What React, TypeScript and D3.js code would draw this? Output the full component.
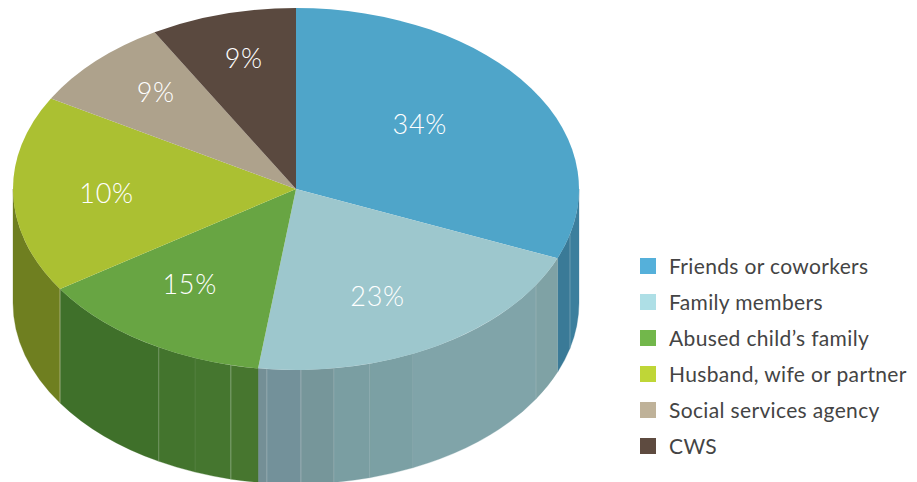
import React from "react";
import * as d3 from "d3";

const categories = ["Friends or coworkers", "Family members", "Abused child\u2019s family", "Husband, wife or partner", "Social services agency", "CWS"];
const percentLabels = ["34%", "23%", "15%", "10%", "9%", "9%"];
// drawn slice sizes as they appear in the artwork (they differ from the printed labels)
const drawnDegrees = [112.5, 75.2, 48.8, 63.5, 30, 30];
const topColors = ["#4fa5c9", "#9dc7cd", "#68a543", "#abc032", "#aea28c", "#5a493f"];
const legendColors = ["#55b0da", "#aedfe6", "#72b74b", "#bfd637", "#bfb299", "#5e4b40"];
// wall strips: end angle (degrees clockwise from top) and colour
const wallEnds = [104.5, 112.4, 122, 155.6, 164.9, 172.3, 179, 185.9, 187.7, 193.3, 200.9, 209, 236.5, 270];
const wallColors = ["#3c7f9d", "#3a7a97", "#7fa2a5", "#80a4a9", "#7ba0a4", "#7a9ea2", "#76969a", "#73919a", "#748f96", "#47762f", "#45762f", "#43742d", "#3f702a", "#6f7f20"];
const seamAlpha = [0.25, 0, 0.15, 0.05, 0.03, 0.15, 0.25, 0.2, 0, 0.3, 0.08, 0.2, 0.4, 0];
const labelAngles = [50.6, 154, 215.5, 268, 317, 345.7];
const labelRadial = [0.566, 0.657, 0.647, 0.67, 0.727, 0.747];

const W = 917, H = 482;
const cx = 296, cy = 189, rx = 283, ry = 181, depth = 114;
const rad = d3.scaleLinear().domain([0, 360]).range([0, 2 * Math.PI]);
const px = (deg: number, r = 1) => cx + rx * r * Math.sin(rad(deg));
const py = (deg: number, r = 1) => cy - ry * r * Math.cos(rad(deg));

const pie = d3.pie<number>().sort(null).value((d) => d);
const arcs = pie(drawnDegrees);
const arc = d3.arc<d3.PieArcDatum<number>>().innerRadius(0).outerRadius(rx);

const legendY = d3.scalePoint<string>().domain(categories).range([266, 446]);
const FONT = "Lato, 'Open Sans', sans-serif";

function wallPath(a0: number, a1: number) {
  return `M${px(a0)},${py(a0)}A${rx},${ry} 0 0 1 ${px(a1)},${py(a1)}L${px(a1)},${py(a1) + depth}A${rx},${ry} 0 0 0 ${px(a0)},${py(a0) + depth}Z`;
}

export default function App() {
  return (
    <svg width={W} height={H} style={{ position: "absolute", left: 0, top: 0, background: "#fff" }}>
      <g>
        {wallEnds.map((end, i) => {
          const start = i === 0 ? 90 : wallEnds[i - 1];
          return <path key={i} d={wallPath(start, end)} fill={wallColors[i]} stroke={wallColors[i]} strokeWidth={0.3} />;
        })}
        {wallEnds.map((end, i) =>
          seamAlpha[i] > 0 ? (
            <line key={i} x1={px(end)} x2={px(end)} y1={py(end)} y2={py(end) + depth} stroke="#fff" strokeOpacity={seamAlpha[i]} strokeWidth={1} />
          ) : null
        )}
      </g>
      <g transform={`translate(${cx},${cy}) scale(1,${ry / rx})`}>
        {arcs.map((a, i) => (
          <path key={i} d={arc(a) as string} fill={topColors[i]} />
        ))}
      </g>
      {percentLabels.map((t, i) => (
        <text key={i} x={px(labelAngles[i], labelRadial[i])} y={py(labelAngles[i], labelRadial[i])} dy="0.36em" textAnchor="middle" fill="#fff" fontFamily={FONT} fontWeight={300} fontSize={27} letterSpacing={0.7}>
          {t}
        </text>
      ))}
      {categories.map((c, i) => (
        <g key={c}>
          <rect x={640} y={(legendY(c) as number) - 8} width={16} height={16} fill={legendColors[i]} />
          <text x={669} y={(legendY(c) as number)} dy="0.36em" fill="#444444" fontFamily={FONT} fontWeight={400} fontSize={21} letterSpacing={0.35}>
            {c}
          </text>
        </g>
      ))}
    </svg>
  );
}
